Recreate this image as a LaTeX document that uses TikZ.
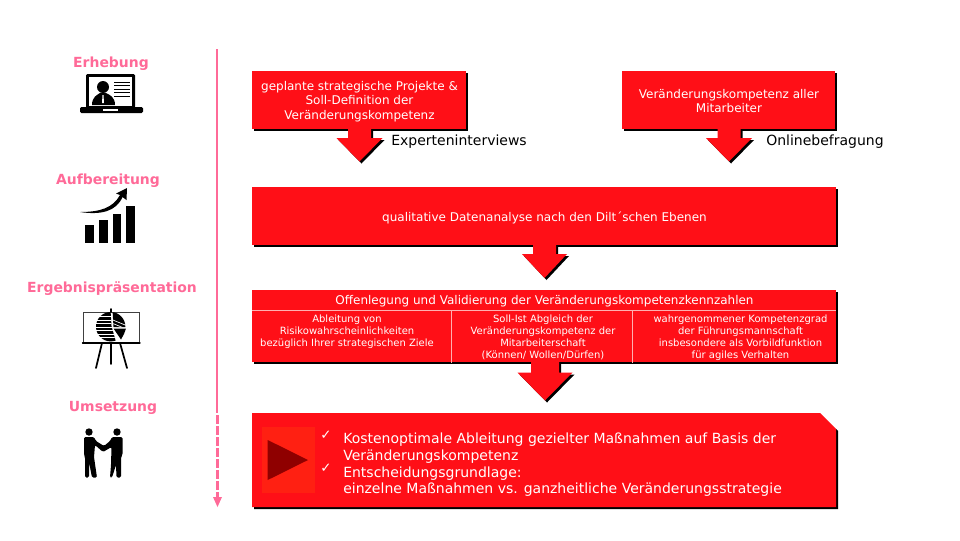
\documentclass[tikz,border=0pt]{standalone}
\usepackage{fontspec}
\setmainfont{DejaVu Sans}
\usetikzlibrary{arrows.meta}
\definecolor{rd}{HTML}{FF0F17}
\definecolor{pk}{HTML}{FF6A98}
\definecolor{inner}{HTML}{FF2012}
\definecolor{dk}{HTML}{8F0000}
\definecolor{rule}{HTML}{FFB0B0}
\tikzset{
 x=0.75pt,y=-0.75pt,
 stagelabel/.style={text=pk,font=\fontsize{10.45}{12}\selectfont\bfseries,inner sep=0pt},
 boxtext/.style={text=white,align=center,inner sep=0pt,font=\fontsize{9}{10.9}\selectfont},
 celltext/.style={text=white,align=center,inner sep=0pt,font=\fontsize{7.5}{9}\selectfont},
 methodtext/.style={text=black,inner sep=0pt,anchor=west,font=\fontsize{10.5}{12}\selectfont},
 bigtext/.style={text=white,align=left,anchor=north west,inner sep=0pt,font=\fontsize{10.5}{12.5}\selectfont},
 checktext/.style={text=white,inner sep=0pt,font=\fontsize{10}{10}\selectfont\bfseries},
 ruleline/.style={draw=rule,line width=0.5pt},
 icon/.style={fill=black,draw=none},
 iconline/.style={draw=black,line cap=round},
}
% box: x1,y1,x2,y2 with shadow
\newcommand\redbox[4]{%
 \fill[black] (#1+2,#2+2) rectangle (#3+2,#4+2);
 \fill[rd] (#1,#2) rectangle (#3,#4);}
% block arrow: cx, top, half stem, head y, half head, tip y
\newcommand\blockarrow[6]{%
 \fill[black] (#1-#3+2,#2) -- (#1+#3+2,#2) -- (#1+#3+2,#4+2) -- (#1+#5+2,#4+2) -- (#1+2,#6+2) -- (#1-#5+2,#4+2) -- (#1-#3+2,#4+2) -- cycle;
 \fill[rd] (#1-#3,#2) -- (#1+#3,#2) -- (#1+#3,#4) -- (#1+#5,#4) -- (#1,#6) -- (#1-#5,#4) -- (#1-#3,#4) -- cycle;}
\begin{document}
\begin{tikzpicture}
\useasboundingbox[fill=white] (0,0) rectangle (960,540);
% timeline
\coordinate (lineA) at (217,49);
\coordinate (lineB) at (217,413);
\coordinate (lineC) at (217.5,507);
\draw[pk,line width=2.1pt] (lineA) -- (lineB);
\draw[pk,line width=2.1pt,dash pattern=on 6.4pt off 1.9pt] (217.5,415) -- (217.5,498);
\fill[pk] (213,497) -- (222,497) -- (lineC) -- cycle;
% labels
\node[stagelabel] (l1) at (111,63.5) {Erhebung};
\node[stagelabel] (l2) at (108,180.5) {Aufbereitung};
\node[stagelabel] (l3) at (112,288.5) {Ergebnispräsentation};
\node[stagelabel] (l4) at (113,407.5) {Umsetzung};
% laptop
\fill[icon,rounded corners=1pt] (86,74) rectangle (135,108);
\fill[white] (89,77) rectangle (132,106);
\fill[icon,rounded corners=1pt] (80,107) rectangle (143,113);
\fill[white] (103,109) rectangle (118,111);
\fill[icon] (103,87) circle (6);
\fill[icon] (92,105) .. controls (92,97) and (97,95) .. (100,93) -- (106,93) .. controls (110,95) and (115,97) .. (115,105) -- cycle;
\fill[white] (102.5,95) -- (103.5,95) -- (104,103) -- (102,103) -- cycle;
\foreach \yy in {81.5,85,88.5,92,95.5} \fill[icon] (114,\yy) rectangle (130,\yy+1.4);
% bars
\fill[icon] (85,225) rectangle (93.5,243);
\fill[icon] (99,220) rectangle (107.5,243);
\fill[icon] (112.7,214) rectangle (121,243);
\fill[icon] (126,206) rectangle (134.5,243);
\fill[icon] (80,212) .. controls (100,212) and (113,208) .. (120,195) -- (116,193.5) -- (127,188) -- (126.5,200) -- (122.5,197) .. controls (116,212) and (100,215) .. (80,212) -- cycle;
% presentation
\draw[black!75,line width=0.5pt] (83,343) -- (83,312) -- (139,312) -- (139,343);
\draw[iconline,line width=1pt] (82.5,343) -- (140,343);
\draw[iconline,line width=1.2pt] (111,309) -- (111,312);
\draw[iconline,line width=1.3pt] (111,343) -- (111,364);
\draw[iconline,line width=1.3pt] (102,343) -- (96,368);
\draw[iconline,line width=1.3pt] (120,343) -- (127,368);
\begin{scope}
 \clip (90,310) -- (110.5,310) -- (111.5,326) -- (116,342) -- (90,342) -- cycle;
 \fill[icon] (110.7,326.7) circle (14.7);
 \foreach \yy in {316,319.5,323,326.5,330,333.5,337} \fill[white] (90,\yy) rectangle (118,\yy+0.8);
\end{scope}
\begin{scope}
 \clip (112.5,310) -- (130,310) -- (130,327) -- (113.5,327) -- cycle;
 \fill[icon] (110.7,326.7) circle (14.7);
 \foreach \yy in {314,317.5,321,324.5,328} \draw[white,line width=0.5pt] (108,\yy+4) -- (130,\yy+13);
\end{scope}
\fill[icon] (113.5,328.5) -- (126,328.5) -- (124,334) -- (121,339.5) -- cycle;
% handshake
\fill[icon] (89,432) circle (3.7);
\fill[icon] (117,432) circle (3.7);
\fill[icon,rounded corners=1pt] (84,437) -- (94,437) -- (96,441) -- (104,446) -- (110,441) -- (112,437) -- (122.5,437) -- (122.5,455) -- (121,457) -- (121,477.5) -- (116.5,477.5) -- (116,465) -- (112,477.5) -- (110,477.5) -- (111,465) -- (111.5,447) -- (103,452) -- (95,445) -- (94,457) -- (97,477.5) -- (92,477.5) -- (89,462) -- (89,477.5) -- (85,477.5) -- (85,457) -- (84,455) -- cycle;
% box 1
\redbox{252}{71}{466}{129}
\node[boxtext] (b1) at (359.5,101.5) {geplante strategische Projekte \&\\Soll-Definition der\\Veränderungskompetenz};
\blockarrow{359.5}{129}{11.5}{138}{23}{161.5}
\node[methodtext] (m1) at (391,141.5) {Experteninterviews};
% box 2
\redbox{622}{71}{835}{129}
\node[boxtext] (b2) at (729,101) {Veränderungskompetenz aller\\Mitarbeiter};
\blockarrow{729}{129}{11.5}{138}{23}{161.5}
\node[methodtext] (m2) at (766,141.5) {Onlinebefragung};
% box 3
\redbox{252}{187}{835.5}{245}
\node[boxtext] (b3) at (544.5,217.5) {qualitative Datenanalyse nach den Dilt´schen Ebenen};
\blockarrow{544.5}{245}{11.5}{254}{22.5}{278}
% box 4
\redbox{252}{290}{835.5}{362}
\coordinate (d1) at (252,310.3);
\coordinate (d2) at (835.5,310.3);
\coordinate (v1) at (451.3,310.3);
\coordinate (v1b) at (451.3,363);
\coordinate (v2) at (632.3,310.3);
\coordinate (v2b) at (632.3,363);
\draw[ruleline] (d1) -- (d2);
\draw[ruleline] (v1) -- (v1b);
\draw[ruleline] (v2) -- (v2b);
\node[boxtext] (b4) at (544.5,301.5) {Offenlegung und Validierung der Veränderungskompetenzkennzahlen};
\node[celltext,anchor=north] (c1) at (347,314.5) {Ableitung von\\Risikowahrscheinlichkeiten\\bezüglich Ihrer strategischen Ziele};
\node[celltext,anchor=north] (c2) at (543,314.5) {Soll-Ist Abgleich der\\Veränderungskompetenz der\\Mitarbeiterschaft\\(Können/ Wollen/Dürfen)};
\node[celltext,anchor=north] (c3) at (740.5,314.5) {wahrgenommener Kompetenzgrad\\der Führungsmannschaft\\insbesondere als Vorbildfunktion\\für agiles Verhalten};
\blockarrow{545}{362}{14}{372.5}{27.5}{400.5}
% box 5
\fill[black] (254,415) -- (836,429) -- (838,431) -- (838,509) -- (254,509) -- cycle;
\fill[rd] (252,413) -- (820,413) -- (836,429) -- (836,507) -- (252,507) -- cycle;
\fill[inner] (261.7,426.7) rectangle (315,492.7);
\fill[dk] (267.7,440) -- (308,460) -- (267.7,480) -- cycle;
\node[bigtext] (b5) at (343,433) {Kostenoptimale Ableitung gezielter Maßnahmen auf Basis der\\Veränderungskompetenz\\Entscheidungsgrundlage:\\einzelne Maßnahmen vs. ganzheitliche Veränderungsstrategie};
\node[checktext] (t1) at (326,435) {✓};
\node[checktext] (t2) at (326,468) {✓};
\end{tikzpicture}
\end{document}
